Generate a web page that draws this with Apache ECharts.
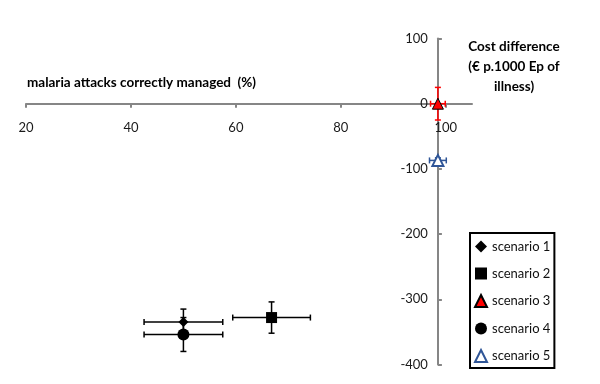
<!DOCTYPE html>
<html><head><meta charset="utf-8">
<script src="https://cdn.jsdelivr.net/npm/echarts@6/dist/echarts.min.js"></script>
<style>html,body{margin:0;padding:0;background:#fff}#c{width:600px;height:384px}</style>
</head><body><div id="c"></div>
<script>
const scenarioNames = ['scenario 1', 'scenario 2', 'scenario 3', 'scenario 4', 'scenario 5'];
const pctCorrect = [50, 66.8, 98.5, 50, 98.5];
const pctErr = [7.5, 7.4, 1.4, 7.5, 1.6];
const costDiff = [-335, -328, 0, -354, -87];
const costErr = [20, 24, 25, 26, 4];
const xTicks = [20, 40, 60, 80, 100];
const yTicks = [100, 0, -100, -200, -300, -400];
const xTitle = 'malaria attacks correctly managed  (%)';
const yTitle = ['Cost difference', '(\u20ac p.1000 Ep of', 'illness)'];
const yAxisCrossX = 98.5;
const xAxisCrossY = 0;

const FONT = 'Lato, "Open Sans", sans-serif';
const symbols = ['diamond', 'rect', 'triangle', 'circle', 'triangle'];
const sizes = [10, 11, 11, 12, 11];
const fills = ['#000', '#000', '#ff0000', '#000', '#fff'];
const borders = ['#000', '#000', '#000', '#000', '#2f5597'];
const errColors = ['#000', '#000', '#ff0000', '#000', '#2f5597'];

const X_MIN = 20, X_MAX = 105, Y_MIN = -400, Y_MAX = 100;
const gridLeft = 26, gridRight = 128, gridTop = 38.5, gridBottom = 19.5;
const gridW = 600 - gridLeft - gridRight;
const gridH = 384 - gridTop - gridBottom;
const yOffset = -((yAxisCrossX - X_MIN) / (X_MAX - X_MIN)) * gridW;
const xOffset = -((xAxisCrossY - Y_MIN) / (Y_MAX - Y_MIN)) * gridH;

const chart = echarts.init(document.getElementById('c'));

const errData = scenarioNames.map((n, i) => [pctCorrect[i], costDiff[i], pctErr[i], costErr[i]]);

const scatterSeries = scenarioNames.map((n, i) => ({
  name: n,
  type: 'scatter',
  z: 5,
  symbol: symbols[i],
  symbolSize: sizes[i],
  itemStyle: { color: fills[i], borderColor: borders[i], borderWidth: i === 4 ? 2 : (i === 2 ? 1 : 0), opacity: 1 },
  data: [[pctCorrect[i], costDiff[i]]]
}));

chart.setOption({
  animation: false,
  backgroundColor: '#fff',
  grid: { left: gridLeft, right: gridRight, top: gridTop, bottom: gridBottom, containLabel: false, outerBoundsMode: 'none' },
  xAxis: {
    type: 'value', min: X_MIN, max: X_MAX, interval: 20,
    position: 'bottom', offset: xOffset,
    splitLine: { show: false },
    axisLine: { onZero: false, lineStyle: { color: '#868686', width: 2 } },
    axisTick: { customValues: xTicks, length: 4, lineStyle: { color: '#868686', width: 2 } },
    axisLabel: { customValues: xTicks, margin: 18, color: '#1a1a1a', fontSize: 13, fontFamily: FONT }
  },
  yAxis: {
    type: 'value', min: Y_MIN, max: Y_MAX, interval: 100,
    position: 'left', offset: yOffset,
    splitLine: { show: false },
    axisLine: { show: true, onZero: false, lineStyle: { color: '#868686', width: 2 } },
    axisTick: { show: true, inside: true, length: 4, lineStyle: { color: '#868686', width: 2 } },
    axisLabel: { customValues: yTicks, margin: 10, color: '#1a1a1a', fontSize: 13, fontFamily: FONT }
  },
  legend: {
    data: scenarioNames,
    orient: 'vertical',
    left: 470, top: 233,
    itemWidth: 12, itemHeight: 12, itemGap: 14,
    padding: [7, 4, 5, 4],
    borderColor: '#000', borderWidth: 2,
    backgroundColor: '#fff',
    textStyle: { fontSize: 13, color: '#111', fontFamily: FONT },
    selectedMode: false
  },
  graphic: [
    { type: 'text', left: 27, top: 76, style: { text: xTitle, font: 'bold 13.5px ' + FONT, fill: '#000' } },
    { type: 'text', x: 514, y: 37, style: { text: yTitle.join('\n'), font: 'bold 13.5px ' + FONT, fill: '#000', align: 'center', lineHeight: 20 } }
  ],
  series: [{
    type: 'custom',
    z: 3,
    data: errData,
    encode: { x: 0, y: 1 },
    renderItem: function (params, api) {
      const x = api.value(0), y = api.value(1), ex = api.value(2), ey = api.value(3);
      const l = api.coord([x - ex, y]), r = api.coord([x + ex, y]);
      const t = api.coord([x, y + ey]), b = api.coord([x, y - ey]);
      const cap = 3;
      const style = { stroke: errColors[params.dataIndex], lineWidth: 1.5, fill: null };
      const ln = (x1, y1, x2, y2) => ({ type: 'line', shape: { x1, y1, x2, y2 }, style });
      return {
        type: 'group',
        children: [
          ln(l[0], l[1], r[0], r[1]),
          ln(l[0], l[1] - cap, l[0], l[1] + cap),
          ln(r[0], r[1] - cap, r[0], r[1] + cap),
          ln(t[0], t[1], b[0], b[1]),
          ln(t[0] - cap, t[1], t[0] + cap, t[1]),
          ln(b[0] - cap, b[1], b[0] + cap, b[1])
        ]
      };
    }
  }].concat(scatterSeries)
});
</script></body></html>
